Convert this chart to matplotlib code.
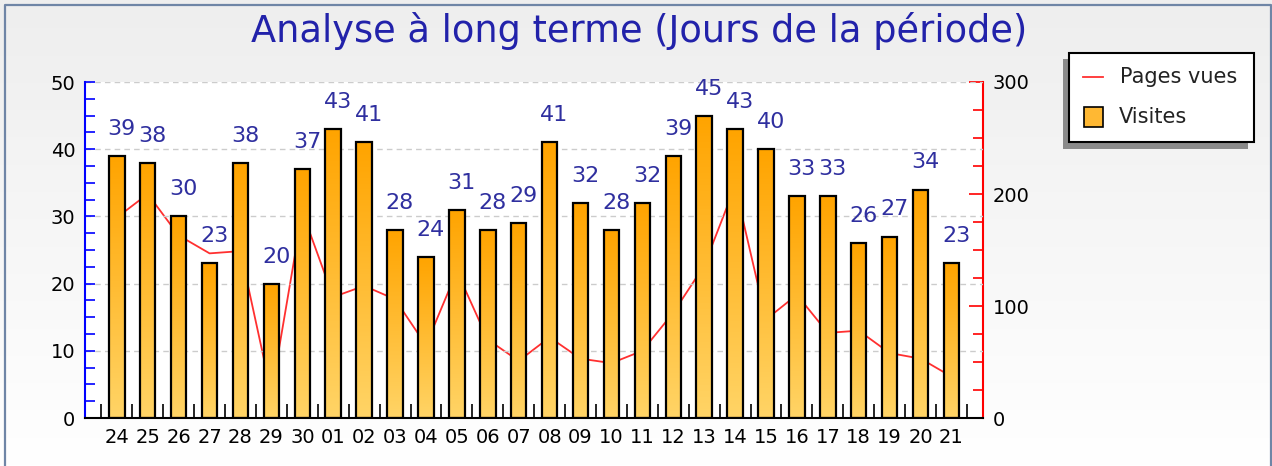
import numpy as np
import matplotlib
matplotlib.use('Agg')
import matplotlib.pyplot as plt
from matplotlib.lines import Line2D
from matplotlib.patches import Rectangle
from matplotlib.colors import LinearSegmentedColormap
from matplotlib.ticker import MultipleLocator, FixedLocator

# data
jours = ['24', '25', '26', '27', '28', '29', '30', '01', '02', '03', '04', '05', '06', '07',
         '08', '09', '10', '11', '12', '13', '14', '15', '16', '17', '18', '19', '20', '21']
visites = [39, 38, 30, 23, 38, 20, 37, 43, 41, 28, 24, 31, 28, 29,
           41, 32, 28, 32, 39, 45, 43, 40, 33, 33, 26, 27, 34, 23]
pages_vues = [179, 200, 163, 147, 149, 22, 184, 108, 118, 106, 65, 131, 70, 51,
              72, 53, 49, 60, 94, 136, 207, 88, 110, 76, 78, 58, 53, 37]

W, H = 1272, 466
fig = plt.figure(figsize=(W / 100, H / 100), dpi=100)


def fx(p):
    return p / W


def fy(p):
    return 1 - p / H


# background gradient + frame
bg = fig.add_axes([0, 0, 1, 1], zorder=-10)
bg.imshow(np.linspace(0, 1, 256).reshape(-1, 1),
          cmap=LinearSegmentedColormap.from_list('bg', ['#eeeeee', '#ffffff']),
          aspect='auto', extent=[0, 1, 0, 1])
bg.plot([fx(4.5), fx(4.5), fx(1270.5), fx(1270.5)], [0, fy(4.5), fy(4.5), 0],
        color='#6f85a6', lw=1.6)
bg.set_xlim(0, 1)
bg.set_ylim(0, 1)
bg.axis('off')

# main axes (bars, left) and twin (line, right) drawn underneath
ax = fig.add_axes([fx(85), fy(418), (983 - 85) / W, (418 - 82) / H])
ax2 = ax.twinx()
ax.set_zorder(ax2.get_zorder() + 1)
ax.patch.set_visible(False)
ax2.patch.set_visible(True)
ax2.patch.set_facecolor('white')

x = np.arange(len(jours))

ax2.plot(x, pages_vues, color='#ff3030', lw=1.3)
ax2.set_ylim(0, 300)

ax.grid(axis='y', color='#cccccc', linestyle=(0, (4, 3)), lw=1, zorder=0)
ax.set_axisbelow(True)

bar_cmap = LinearSegmentedColormap.from_list('bar', ['#ffd466', '#ffa400'])
bars = ax.bar(x, visites, width=0.5, color='none', edgecolor='black', linewidth=1.6, zorder=3)
for b in bars:
    im = ax.imshow(np.linspace(0, 1, 100).reshape(-1, 1), cmap=bar_cmap, origin='lower',
                   aspect='auto', zorder=2,
                   extent=[b.get_x(), b.get_x() + b.get_width(), 0, b.get_height()])
    im.set_clip_path(b)

for xi, v in zip(x, visites):
    ax.annotate(str(v), (xi, v), xytext=(3.5, 19.5), textcoords='offset points',
                ha='center', va='center', color='#2f2f9f', fontsize=16)

ax.set_xlim(-1.03, 28.02)
ax.set_ylim(0, 50)

# left axis
ax.yaxis.set_major_locator(MultipleLocator(10))
ax.yaxis.set_minor_locator(MultipleLocator(2.5))
ax.tick_params(axis='y', which='both', direction='in', color='blue', length=7,
               width=1.2, labelsize=14, pad=7)
# bottom axis
ax.set_xticks(x)
ax.set_xticklabels(jours)
ax.xaxis.set_minor_locator(FixedLocator(np.arange(-0.5, 28, 1)))
ax.tick_params(axis='x', which='major', length=0, labelsize=14, pad=7)
ax.tick_params(axis='x', which='minor', direction='in', length=10, width=1.2, color='black')

for s in ['top', 'right']:
    ax.spines[s].set_visible(False)
ax.spines['left'].set_color('blue')
ax.spines['left'].set_linewidth(1.5)
ax.spines['bottom'].set_linewidth(1.5)

# right axis
ax2.yaxis.set_major_locator(MultipleLocator(100))
ax2.yaxis.set_minor_locator(MultipleLocator(25))
ax2.tick_params(axis='y', which='major', direction='in', color='red', length=10,
                width=1.2, labelsize=14, pad=7)
ax2.tick_params(axis='y', which='minor', direction='in', color='red', length=7, width=1.2)
for s in ['top', 'left', 'bottom']:
    ax2.spines[s].set_visible(False)
ax2.spines['right'].set_color('red')
ax2.spines['right'].set_linewidth(1.5)

# title
fig.text(fx(639), fy(31), 'Analyse à long terme (Jours de la période)', ha='center',
         va='center', fontsize=26.5, color='#2222aa')

# legend with shadow
fig.add_artist(Rectangle((fx(1063), fy(149)), (1248 - 1063) / W, (149 - 59) / H,
                         transform=fig.transFigure, facecolor='#8a8a8a', edgecolor='none'))
fig.add_artist(Rectangle((fx(1069), fy(142)), (1254 - 1069) / W, (142 - 53) / H,
                         transform=fig.transFigure, facecolor='white', edgecolor='black', lw=1.5))
fig.add_artist(Line2D([fx(1083), fx(1103)], [fy(77), fy(77)], transform=fig.transFigure,
                      color='#ff3030', lw=1.3))
fig.add_artist(Rectangle((fx(1084), fy(127)), 19 / W, 20 / H, transform=fig.transFigure,
                         facecolor='#ffb833', edgecolor='black', lw=1.2))
fig.text(fx(1120), fy(77), 'Pages vues', va='center', fontsize=15, color='#222222')
fig.text(fx(1119), fy(117), 'Visites', va='center', fontsize=15, color='#222222')

fig.savefig('out.png', dpi=100)
